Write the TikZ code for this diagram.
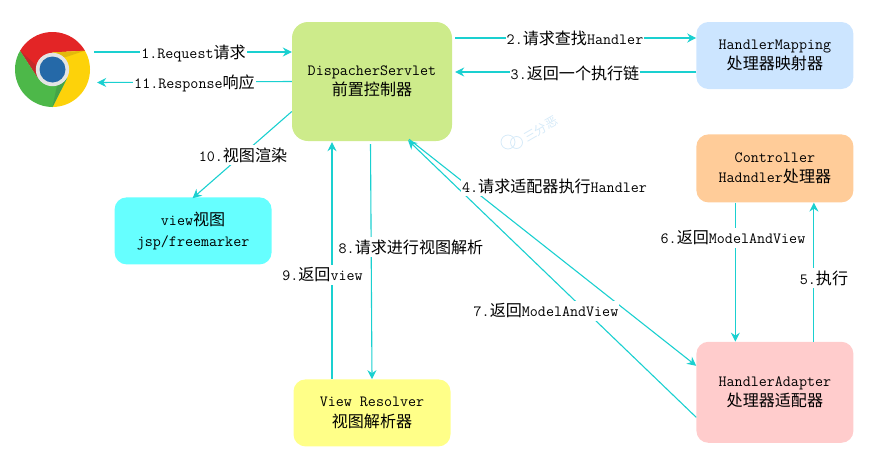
\documentclass[tikz,border=0pt]{standalone}
\usepackage{fontspec}
\usepackage{xcolor}
\usepackage{tikz}
\usetikzlibrary{
  arrows.meta,
  positioning
}
\newfontfamily\zhfont[Scale=1.03]{Noto Sans CJK SC}
\providecommand{\zh}[1]{{\zhfont #1}}
\definecolor{linecyan}{HTML}{1AD0D0}
\definecolor{markblue}{HTML}{D6EAF8}
\definecolor{dispgreen}{HTML}{CDEB8B}
\definecolor{mapblue}{HTML}{CCE5FF}
\definecolor{ctrlorange}{HTML}{FFCC99}
\definecolor{adaptpink}{HTML}{FFCCCC}
\definecolor{resolveyellow}{HTML}{FFFF88}
\definecolor{viewcyan}{HTML}{66FFFF}
\definecolor{logored}{HTML}{E32526}
\definecolor{logored2}{HTML}{C4282A}
\definecolor{logoyellow}{HTML}{FDD20A}
\definecolor{logoyellow2}{HTML}{E3B80C}
\definecolor{logogreen}{HTML}{4DB849}
\definecolor{logogreen2}{HTML}{45A347}
\definecolor{logoring}{HTML}{E4E4E4}
\definecolor{logoblue}{HTML}{2569A8}

\begin{document}
\begin{tikzpicture}[
    x=1pt,
    y=-1pt,
    font=\fontsize{15.6}{20.5}\selectfont\ttfamily,
    box/.style={
        rectangle,
        rounded corners=12pt,
        align=center,
        minimum width=157pt,
        minimum height=67pt,
        inner sep=0pt
    },
    arrow/.style={-{Stealth[length=9pt,width=9pt,inset=3pt]}, linecyan, line width=1.1pt},
    lbl/.style={fill=white, inner sep=1pt, minimum height=20pt, align=center}
]
\useasboundingbox (0,0) rectangle (896,466);

% ----------------------------------------------------------
% NODES
% ----------------------------------------------------------

\node[box, minimum width=160pt, minimum height=119pt, rounded corners=16pt, fill=dispgreen] (dispatcher) at (372,81.5) {DispacherServlet\\\zh{前置控制器}};

\node[circle, minimum size=75pt, inner sep=0pt] (browser) at (52.5,69.5) {};

\node[box, fill=mapblue, right=244pt of dispatcher.north east, anchor=north west] (mapping) {HandlerMapping\\\zh{处理器映射器}};
\node[box, minimum height=68pt, fill=ctrlorange, below=45pt of mapping] (controller) {Controller\\Hadndler\zh{处理器}};
\node[box, minimum height=101pt, fill=adaptpink, below=139pt of controller] (adapter) {HandlerAdapter\\\zh{处理器适配器}};
\node[box, fill=resolveyellow, below=238pt of dispatcher] (resolver) {View Resolver\\\zh{视图解析器}};
\node[box, fill=viewcyan, below left=56pt and 20pt of dispatcher.south west] (view) {view\zh{视图}\\jsp/freemarker};

% chrome logo
\begin{scope}[shift={(browser.center)}, x=1pt, y=1pt]
  \foreach \ang/\col in {0/logored, -120/logoyellow, 120/logogreen}{
    \begin{scope}[rotate=\ang]
      \fill[\col] (30:37.5) arc[start angle=30, end angle=150, radius=37.5] -- (210:17) -- (90:17) -- cycle;
      \fill[\col2] (150:37.5) -- (210:17) -- (165:17) -- cycle;
    \end{scope}
  }
  \fill[logoring] (0,0) circle[radius=16.7];
  \fill[logoblue] (0,0) circle[radius=13];
\end{scope}

% watermark
\begin{scope}[markblue, line width=0.8pt]
  \draw (508,142) circle[radius=7];
  \draw (516.5,142.5) circle[radius=6];
  \node[rotate=30, text=markblue, font=\fontsize{12}{14}\selectfont\zhfont] (mark) at (541,129) {三分恶};
\end{scope}

% ----------------------------------------------------------
% ARROWS
% ----------------------------------------------------------

\draw[arrow] ([xshift=4pt,yshift=17.5pt]browser.east) -- ([yshift=29.5pt]dispatcher.west);
\draw[arrow] (dispatcher.west) -- ([xshift=7pt,yshift=-13pt]browser.east);
\draw[arrow] ([xshift=3pt,yshift=43.5pt]dispatcher.east) -- ([yshift=43.5pt]dispatcher.east -| mapping.west);
\draw[arrow] ([yshift=-16.5pt]mapping.west) -- ([xshift=3pt,yshift=-16.5pt]mapping.west -| dispatcher.east);
\draw[arrow] ([yshift=-30pt]dispatcher.west) -- ([xshift=-0.5pt,yshift=-1pt]view.north);
\draw[arrow] ([xshift=37pt,yshift=2pt]dispatcher.south) -- ([yshift=26.5pt]adapter.west);
\draw[arrow] ([yshift=-25pt]adapter.west) -- ([xshift=36pt,yshift=1pt]dispatcher.south);
\draw[arrow] ([xshift=-39.5pt]controller.south) -- ([xshift=-39.5pt]adapter.north);
\draw[arrow] ([xshift=39pt]adapter.north) -- ([xshift=39pt]controller.south);
\draw[arrow] ([xshift=-40pt]resolver.north) -- ([xshift=-40pt,yshift=-1pt]dispatcher.south);
\draw[arrow] ([xshift=-1.5pt,yshift=-3pt]dispatcher.south) -- (resolver.north);

% ----------------------------------------------------------
% ANNOTATIONS
% ----------------------------------------------------------

\node[lbl] (req) at (193.5,53) {1.Request\zh{请求}};
\node[lbl] (resp) at (194.5,83) {11.Response\zh{响应}};
\node[lbl] (find) at (575,38) {2.\zh{请求查找}Handler};
\node[lbl] (chain) at (575,73) {3.\zh{返回一个执行链}};
\node[lbl] (render) at (243,155) {10.\zh{视图渲染}};
\node[lbl] (callview) at (322.5,275) {9.\zh{返回}view};
\node[lbl] (parse) at (411,247) {8.\zh{请求进行视图解析}};
\node[lbl] (exec) at (554.5,186) {4.\zh{请求适配器执行}Handler};
\node[lbl] (backleft) at (546,311) {7.\zh{返回}ModelAndView};
\node[lbl] (backright) at (733,238) {6.\zh{返回}ModelAndView};
\node[lbl] (run) at (824,278) {5.\zh{执行}};

\end{tikzpicture}
\end{document}
